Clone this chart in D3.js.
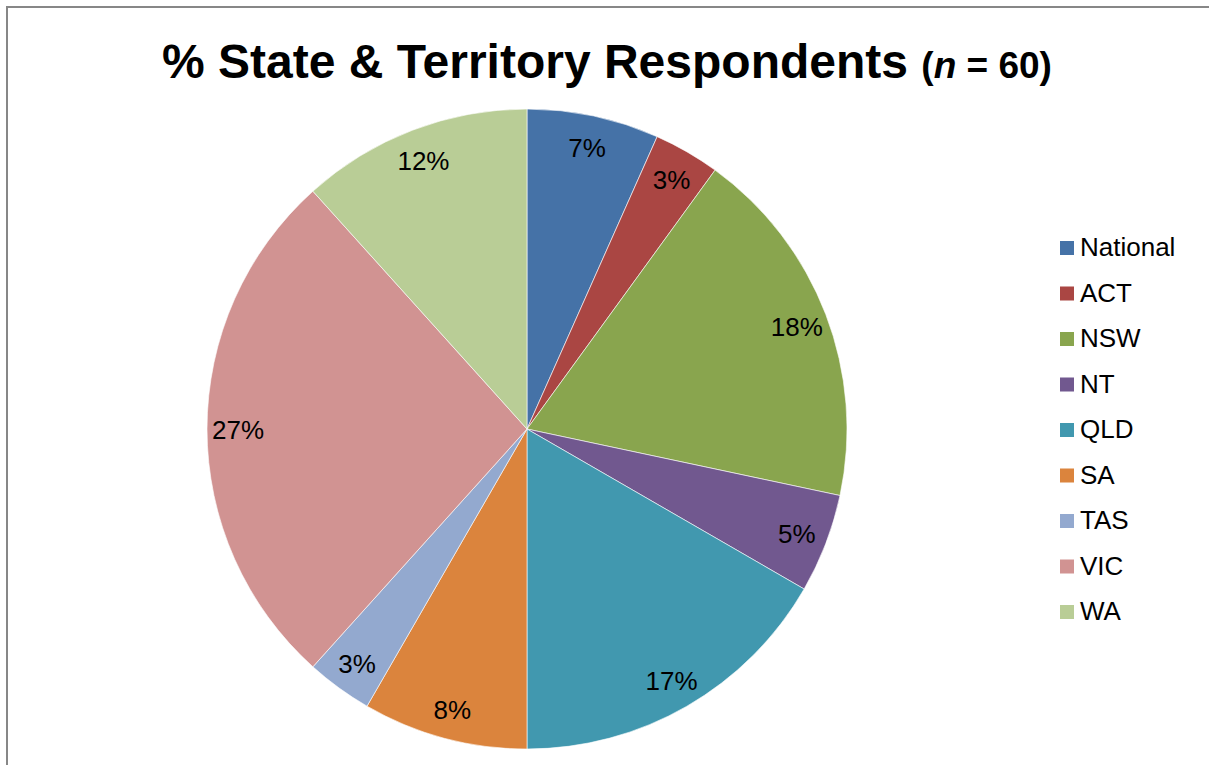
<!DOCTYPE html>
<html>
<head>
<meta charset="utf-8">
<script src="https://cdnjs.cloudflare.com/ajax/libs/d3/7.8.5/d3.min.js"></script>
<style>
  body { margin: 0; background: #fff; }
  svg { display: block; }
</style>
</head>
<body>
<script>
// respondent counts per state/territory (n = 60)
var categories = ["National", "ACT", "NSW", "NT", "QLD", "SA", "TAS", "VIC", "WA"];
var counts = [4, 2, 11, 3, 10, 5, 2, 16, 7];
var colors = ["#4572A7", "#AA4643", "#89A54E", "#71588F", "#4198AF", "#DB843D", "#93A9CF", "#D19392", "#B9CD96"];

var width = 1209, height = 765;
var cx = 527, cy = 429, radius = 320;

var svg = d3.select("body").append("svg")
  .attr("width", width)
  .attr("height", height);

// chart frame (runs off the right and bottom edges)
svg.append("rect")
  .attr("x", 7).attr("y", 7)
  .attr("width", width + 20).attr("height", height + 20)
  .attr("fill", "none")
  .attr("stroke", "#878787")
  .attr("stroke-width", 2);

var title = svg.append("text")
  .attr("x", 607)
  .attr("y", 78)
  .attr("text-anchor", "middle")
  .style("font-family", "'Liberation Sans', Arial, sans-serif")
  .style("font-weight", "bold")
  .style("font-size", "48px");
title.append("tspan").text("% State & Territory Respondents ");
var sub = title.append("tspan").style("font-size", "37px");
sub.append("tspan").text("(");
sub.append("tspan").style("font-style", "italic").text("n");
sub.append("tspan").text(" = 60)");

var total = d3.sum(counts);
var pie = d3.pie().sort(null).value(function(d) { return d; });
var arc = d3.arc().innerRadius(0).outerRadius(radius);
var labelArc = d3.arc().innerRadius(289).outerRadius(289);

var g = svg.append("g")
  .attr("transform", "translate(" + cx + "," + cy + ")");

var slices = pie(counts);

g.selectAll("path")
  .data(slices)
  .enter().append("path")
  .attr("d", arc)
  .attr("fill", function(d, i) { return colors[i]; })
  .attr("stroke", "#ffffff")
  .attr("stroke-width", 0.6);

g.selectAll("text")
  .data(slices)
  .enter().append("text")
  .attr("transform", function(d) { return "translate(" + labelArc.centroid(d) + ")"; })
  .attr("text-anchor", "middle")
  .attr("dy", "0.4em")
  .style("font-family", "'Liberation Sans', Arial, sans-serif")
  .style("font-size", "26px")
  .attr("fill", "#000")
  .text(function(d) { return Math.round(100 * d.value / total) + "%"; });

// legend
var legend = svg.append("g")
  .attr("transform", "translate(1060,241)");

var item = legend.selectAll("g")
  .data(categories)
  .enter().append("g")
  .attr("transform", function(d, i) { return "translate(0," + (i * 45.5) + ")"; });

item.append("rect")
  .attr("width", 14).attr("height", 14)
  .attr("fill", function(d, i) { return colors[i]; });

item.append("text")
  .attr("x", 20)
  .attr("y", 15)
  .style("font-family", "'Liberation Sans', Arial, sans-serif")
  .style("font-size", "26px")
  .text(function(d) { return d; });
</script>
</body>
</html>
